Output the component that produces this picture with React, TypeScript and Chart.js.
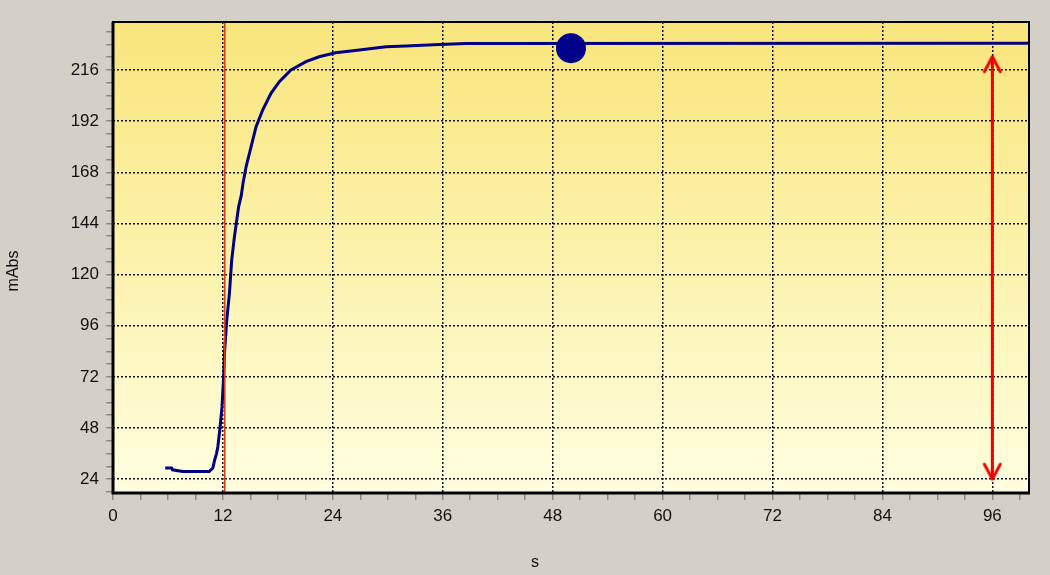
import React, { useEffect, useRef } from "react";
import { Chart, registerables } from "chart.js";

Chart.register(...registerables);

// Data
const timeS = [5.7, 6.4, 6.5, 7.6, 10.5, 10.9, 11.1, 11.3, 11.45, 11.7, 11.9, 12.06, 12.17, 12.42, 12.71, 12.96, 13.26, 13.51, 13.72, 14.0, 14.2, 14.53, 15.08, 15.62, 16.34, 17.25, 18.16, 19.43, 21.07, 22.5, 24.3, 26.9, 29.8, 32.0, 35.0, 38.5, 100];
const absorbance = [29.2, 29.2, 28.4, 27.6, 27.6, 29.2, 33, 36, 39.3, 48.7, 58, 70.6, 83, 98.7, 111.2, 126.9, 137.8, 145.6, 151.9, 157, 163, 170.6, 180, 189.4, 197.2, 205, 210.5, 216, 219.9, 222.2, 224.1, 225.4, 226.9, 227.2, 227.8, 228.4, 228.5];
const markerX = [12.2, 12.2];
const markerY = [17.5, 238.5];
const dotX = [50];
const dotY = [226.2];
const arrowX = [96, 96];
const arrowY = [24, 222.2];
const xTitle = "s";
const yTitle = "mAbs";

const X_MIN = 0;
const X_MAX = 100;
const Y_MIN = 17.5;
const Y_MAX = 238.5;

function chevron(up: boolean): HTMLCanvasElement {
  const c = document.createElement("canvas");
  c.width = 36;
  c.height = 36;
  const g = c.getContext("2d")!;
  g.strokeStyle = "#f00000";
  g.lineWidth = 3;
  g.lineCap = "round";
  g.lineJoin = "round";
  g.beginPath();
  const d = up ? 15 : -15;
  g.moveTo(10, 18 + d);
  g.lineTo(18, 18);
  g.lineTo(26, 18 + d);
  g.stroke();
  return c;
}

export default function App() {
  const ref = useRef<HTMLCanvasElement | null>(null);

  useEffect(() => {
    if (!ref.current) return;
    const font = "'Liberation Sans', Arial, sans-serif";

    const bgPlugin = {
      id: "bgPlugin",
      beforeDraw(chart: any) {
        const { ctx, chartArea: a, width, height } = chart;
        ctx.save();
        ctx.fillStyle = "#d4d0c8";
        ctx.fillRect(0, 0, width, height);
        const g = ctx.createLinearGradient(0, a.top, 0, a.bottom);
        g.addColorStop(0, "#f9e57c");
        g.addColorStop(0.5, "#fcf2ac");
        g.addColorStop(1, "#fffee0");
        ctx.fillStyle = g;
        ctx.fillRect(a.left, a.top, a.right - a.left, a.bottom - a.top);
        ctx.restore();
      },
      afterDraw(chart: any) {
        const { ctx, chartArea: a } = chart;
        ctx.save();
        ctx.strokeStyle = "#000";
        ctx.lineWidth = 2;
        ctx.strokeRect(a.left, a.top, a.right - a.left, a.bottom - a.top);
        ctx.lineWidth = 3;
        ctx.beginPath();
        ctx.moveTo(a.left, a.top);
        ctx.lineTo(a.left, a.bottom);
        ctx.lineTo(a.right + 1, a.bottom);
        ctx.stroke();
        // axis titles
        ctx.fillStyle = "#111";
        ctx.font = `16px ${font}`;
        ctx.textAlign = "center";
        ctx.textBaseline = "middle";
        ctx.fillText(xTitle, 535, 563);
        ctx.translate(14, 271);
        ctx.rotate(-Math.PI / 2);
        ctx.fillText(yTitle, 0, 0);
        ctx.restore();
      },
    };

    const pts = (xs: number[], ys: number[]) => xs.map((x, i) => ({ x, y: ys[i] }));

    const chart = new Chart(ref.current, {
      type: "line",
      data: {
        datasets: [
          {
            data: pts(dotX, dotY),
            showLine: false,
            pointRadius: 15,
            pointBackgroundColor: "#00008a",
            pointBorderColor: "#00008a",
            pointBorderWidth: 0,
          },
          {
            data: pts(markerX, markerY),
            borderColor: "#d2401c",
            borderWidth: 1.6,
            pointRadius: 0,
          },
          {
            data: pts(timeS, absorbance),
            borderColor: "#000080",
            borderWidth: 3,
            pointRadius: 0,
            tension: 0,
          },
          {
            data: pts(arrowX, arrowY),
            borderColor: "#f00000",
            borderWidth: 3,
            pointRadius: 18,
            pointStyle: [chevron(false), chevron(true)] as any,
          },
        ] as any,
      },
      options: {
        animation: false,
        responsive: false,
        events: [],
        layout: { padding: { left: 0, top: 22, right: 18, bottom: 0 } },
        plugins: {
          legend: { display: false },
          tooltip: { enabled: false },
          title: { display: false },
        },
        scales: {
          x: {
            type: "linear",
            min: X_MIN,
            max: X_MAX,
            afterFit: (s: any) => {
              s.height = 82;
              s.paddingLeft = 0;
              s.paddingRight = 0;
            },
            border: { display: false, dash: [2, 2] },
            grid: {
              lineWidth: 1.5,
              color: (c: any) =>
                c.tick && c.tick.value % 12 === 0 && c.tick.value > 0 ? "#111" : "rgba(0,0,0,0)",
              tickColor: (c: any) =>
                c.tick && c.tick.value % 3 === 0 ? "#8a8a8a" : "rgba(0,0,0,0)",
              tickLength: 7,
              tickWidth: 1.5,
            },
            ticks: {
              stepSize: 3,
              includeBounds: false,
              autoSkip: false,
              maxRotation: 0,
              padding: 6,
              color: "#111",
              font: { family: font, size: 17 },
              callback: (v: any) => (Number(v) % 12 === 0 ? String(v) : ""),
            },
          },
          y: {
            type: "linear",
            min: Y_MIN,
            max: Y_MAX,
            afterFit: (s: any) => {
              s.width = 113;
              s.paddingTop = 0;
              s.paddingBottom = 0;
            },
            border: { display: false, dash: [2, 2] },
            grid: {
              lineWidth: 1.5,
              color: (c: any) =>
                c.tick && c.tick.value % 24 === 0 ? "#111" : "rgba(0,0,0,0)",
              tickColor: (c: any) =>
                c.tick && c.tick.value % 6 === 0 ? "#8a8a8a" : "rgba(0,0,0,0)",
              tickLength: 7,
              tickWidth: 1.5,
            },
            ticks: {
              stepSize: 6,
              includeBounds: false,
              autoSkip: false,
              padding: 7,
              color: "#111",
              font: { family: font, size: 17 },
              callback: (v: any) => (Number(v) % 24 === 0 ? String(v) : ""),
            },
          },
        },
      } as any,
      plugins: [bgPlugin],
    });

    return () => chart.destroy();
  }, []);

  return (
    <div style={{ position: "fixed", left: 0, top: 0, width: 1050, height: 575, background: "#d4d0c8" }}>
      <canvas ref={ref} width={1050} height={575} style={{ display: "block" }} />
    </div>
  );
}
